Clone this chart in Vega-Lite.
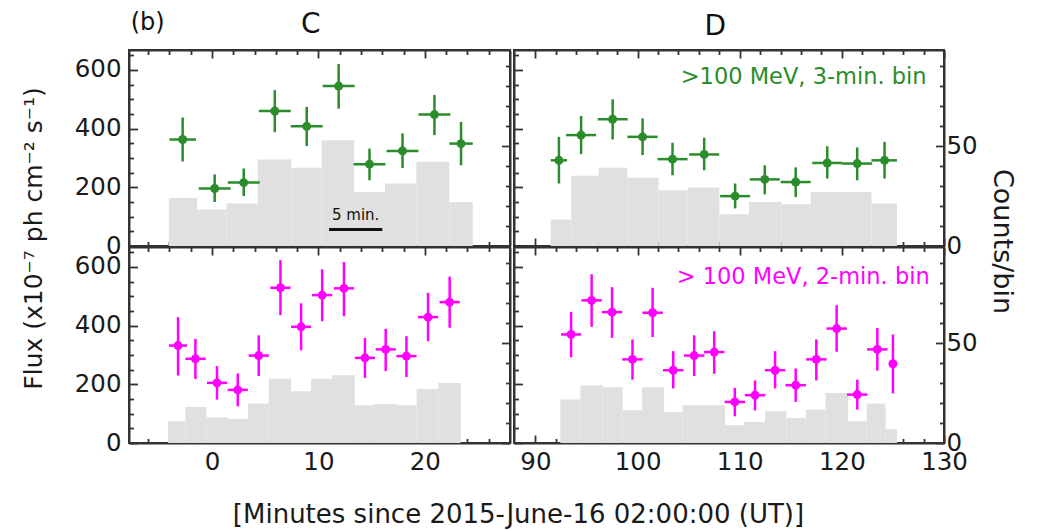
{
  "$schema": "https://vega.github.io/schema/vega-lite/v6.json",
  "background": "white",
  "padding": {"left": 19, "top": 9, "right": 5, "bottom": 3},
  "datasets": {
    "hist": [
      {"panel": "C3", "t0": -4.06, "t1": -1.4, "c": 24.0},
      {"panel": "C3", "t0": -1.4, "t1": 1.35, "c": 18.2},
      {"panel": "C3", "t0": 1.35, "t1": 4.3, "c": 21.2},
      {"panel": "C3", "t0": 4.3, "t1": 7.47, "c": 43.3},
      {"panel": "C3", "t0": 7.47, "t1": 10.3, "c": 39.1},
      {"panel": "C3", "t0": 10.3, "t1": 13.36, "c": 52.9},
      {"panel": "C3", "t0": 13.36, "t1": 16.25, "c": 27.0},
      {"panel": "C3", "t0": 16.25, "t1": 19.2, "c": 31.2},
      {"panel": "C3", "t0": 19.2, "t1": 22.3, "c": 42.1},
      {"panel": "C3", "t0": 22.3, "t1": 24.5, "c": 22.0},
      {"panel": "D3", "t0": 91.5, "t1": 93.5, "c": 13.2},
      {"panel": "D3", "t0": 93.5, "t1": 96.2, "c": 35.1},
      {"panel": "D3", "t0": 96.2, "t1": 99.0, "c": 39.1},
      {"panel": "D3", "t0": 99.0, "t1": 102.05, "c": 34.1},
      {"panel": "D3", "t0": 102.05, "t1": 104.9, "c": 27.9},
      {"panel": "D3", "t0": 104.9, "t1": 108.0, "c": 29.2},
      {"panel": "D3", "t0": 108.0, "t1": 110.9, "c": 15.9},
      {"panel": "D3", "t0": 110.9, "t1": 114.1, "c": 22.0},
      {"panel": "D3", "t0": 114.1, "t1": 116.95, "c": 20.9},
      {"panel": "D3", "t0": 116.95, "t1": 120.0, "c": 27.0},
      {"panel": "D3", "t0": 120.0, "t1": 122.9, "c": 27.0},
      {"panel": "D3", "t0": 122.9, "t1": 125.4, "c": 21.2},
      {"panel": "C2", "t0": -4.13, "t1": -2.5, "c": 10.9},
      {"panel": "C2", "t0": -2.5, "t1": -0.53, "c": 18.0},
      {"panel": "C2", "t0": -0.53, "t1": 1.5, "c": 12.9},
      {"panel": "C2", "t0": 1.5, "t1": 3.38, "c": 12.0},
      {"panel": "C2", "t0": 3.38, "t1": 5.33, "c": 19.7},
      {"panel": "C2", "t0": 5.33, "t1": 7.43, "c": 32.1},
      {"panel": "C2", "t0": 7.43, "t1": 9.31, "c": 25.9},
      {"panel": "C2", "t0": 9.31, "t1": 11.29, "c": 32.1},
      {"panel": "C2", "t0": 11.29, "t1": 13.42, "c": 33.9},
      {"panel": "C2", "t0": 13.42, "t1": 15.2, "c": 18.9},
      {"panel": "C2", "t0": 15.2, "t1": 17.4, "c": 19.5},
      {"panel": "C2", "t0": 17.4, "t1": 19.23, "c": 18.9},
      {"panel": "C2", "t0": 19.23, "t1": 21.26, "c": 27.0},
      {"panel": "C2", "t0": 21.26, "t1": 23.37, "c": 30.0},
      {"panel": "D2", "t0": 92.44, "t1": 94.4, "c": 21.7},
      {"panel": "D2", "t0": 94.4, "t1": 96.58, "c": 28.9},
      {"panel": "D2", "t0": 96.58, "t1": 98.53, "c": 27.9},
      {"panel": "D2", "t0": 98.53, "t1": 100.43, "c": 16.4},
      {"panel": "D2", "t0": 100.43, "t1": 102.6, "c": 27.9},
      {"panel": "D2", "t0": 102.6, "t1": 104.4, "c": 15.5},
      {"panel": "D2", "t0": 104.4, "t1": 106.5, "c": 18.9},
      {"panel": "D2", "t0": 106.5, "t1": 108.57, "c": 18.9},
      {"panel": "D2", "t0": 108.57, "t1": 110.43, "c": 8.9},
      {"panel": "D2", "t0": 110.43, "t1": 112.48, "c": 10.5},
      {"panel": "D2", "t0": 112.48, "t1": 114.57, "c": 15.9},
      {"panel": "D2", "t0": 114.57, "t1": 116.46, "c": 12.5},
      {"panel": "D2", "t0": 116.46, "t1": 118.4, "c": 16.7},
      {"panel": "D2", "t0": 118.4, "t1": 120.6, "c": 25.0},
      {"panel": "D2", "t0": 120.6, "t1": 122.42, "c": 10.9},
      {"panel": "D2", "t0": 122.42, "t1": 124.28, "c": 19.7},
      {"panel": "D2", "t0": 124.28, "t1": 125.41, "c": 7.0}
    ],
    "pts": [
      {"panel": "C3", "t": -2.76, "t0": -4.0, "t1": -1.5, "flux": 363, "lo": 288, "hi": 438},
      {"panel": "C3", "t": 0.25, "t0": -1.25, "t1": 1.75, "flux": 196, "lo": 150, "hi": 244},
      {"panel": "C3", "t": 2.98, "t0": 1.48, "t1": 4.48, "flux": 216, "lo": 170, "hi": 264},
      {"panel": "C3", "t": 5.9, "t0": 4.4, "t1": 7.4, "flux": 460, "lo": 388, "hi": 531},
      {"panel": "C3", "t": 8.9, "t0": 7.4, "t1": 10.4, "flux": 408, "lo": 341, "hi": 474},
      {"panel": "C3", "t": 11.9, "t0": 10.4, "t1": 13.4, "flux": 545, "lo": 468, "hi": 620},
      {"panel": "C3", "t": 14.8, "t0": 13.3, "t1": 16.3, "flux": 279, "lo": 224, "hi": 332},
      {"panel": "C3", "t": 17.9, "t0": 16.4, "t1": 19.4, "flux": 324, "lo": 266, "hi": 384},
      {"panel": "C3", "t": 20.9, "t0": 19.4, "t1": 22.4, "flux": 448, "lo": 378, "hi": 515},
      {"panel": "C3", "t": 23.4, "t0": 22.3, "t1": 24.5, "flux": 349, "lo": 275, "hi": 423},
      {"panel": "D3", "t": 92.3, "t0": 91.5, "t1": 93.1, "flux": 292, "lo": 213, "hi": 372},
      {"panel": "D3", "t": 94.47, "t0": 93.0, "t1": 95.94, "flux": 378, "lo": 313, "hi": 443},
      {"panel": "D3", "t": 97.56, "t0": 96.1, "t1": 99.03, "flux": 432, "lo": 363, "hi": 500},
      {"panel": "D3", "t": 100.49, "t0": 99.0, "t1": 101.96, "flux": 372, "lo": 310, "hi": 435},
      {"panel": "D3", "t": 103.42, "t0": 101.95, "t1": 104.89, "flux": 296, "lo": 241, "hi": 352},
      {"panel": "D3", "t": 106.52, "t0": 105.05, "t1": 107.99, "flux": 312, "lo": 258, "hi": 369},
      {"panel": "D3", "t": 109.55, "t0": 108.08, "t1": 111.02, "flux": 170, "lo": 128, "hi": 213},
      {"panel": "D3", "t": 112.45, "t0": 110.98, "t1": 113.92, "flux": 227, "lo": 176, "hi": 275},
      {"panel": "D3", "t": 115.48, "t0": 114.01, "t1": 116.95, "flux": 218, "lo": 167, "hi": 268},
      {"panel": "D3", "t": 118.57, "t0": 117.1, "t1": 120.04, "flux": 283, "lo": 230, "hi": 340},
      {"panel": "D3", "t": 121.5, "t0": 120.03, "t1": 122.97, "flux": 281, "lo": 224, "hi": 336},
      {"panel": "D3", "t": 124.18, "t0": 122.9, "t1": 125.4, "flux": 292, "lo": 230, "hi": 355},
      {"panel": "C2", "t": -3.19, "t0": -4.05, "t1": -2.35, "flux": 332, "lo": 230, "hi": 429},
      {"panel": "C2", "t": -1.56, "t0": -2.5, "t1": -0.6, "flux": 287, "lo": 218, "hi": 355},
      {"panel": "C2", "t": 0.47, "t0": -0.48, "t1": 1.42, "flux": 205, "lo": 148, "hi": 262},
      {"panel": "C2", "t": 2.42, "t0": 1.47, "t1": 3.37, "flux": 181, "lo": 125, "hi": 237},
      {"panel": "C2", "t": 4.39, "t0": 3.44, "t1": 5.34, "flux": 298, "lo": 228, "hi": 367},
      {"panel": "C2", "t": 6.43, "t0": 5.48, "t1": 7.38, "flux": 529, "lo": 436, "hi": 623},
      {"panel": "C2", "t": 8.37, "t0": 7.42, "t1": 9.32, "flux": 396, "lo": 316, "hi": 476},
      {"panel": "C2", "t": 10.35, "t0": 9.4, "t1": 11.3, "flux": 504, "lo": 415, "hi": 592},
      {"panel": "C2", "t": 12.4, "t0": 11.45, "t1": 13.35, "flux": 527, "lo": 432, "hi": 617},
      {"panel": "C2", "t": 14.37, "t0": 13.42, "t1": 15.32, "flux": 290, "lo": 222, "hi": 358},
      {"panel": "C2", "t": 16.32, "t0": 15.37, "t1": 17.27, "flux": 319, "lo": 245, "hi": 389},
      {"panel": "C2", "t": 18.27, "t0": 17.32, "t1": 19.22, "flux": 296, "lo": 225, "hi": 364},
      {"panel": "C2", "t": 20.3, "t0": 19.35, "t1": 21.25, "flux": 429, "lo": 347, "hi": 512},
      {"panel": "C2", "t": 22.33, "t0": 21.38, "t1": 23.28, "flux": 480, "lo": 393, "hi": 567},
      {"panel": "D2", "t": 93.49, "t0": 92.5, "t1": 94.48, "flux": 370, "lo": 292, "hi": 447},
      {"panel": "D2", "t": 95.5, "t0": 94.5, "t1": 96.5, "flux": 486, "lo": 396, "hi": 575},
      {"panel": "D2", "t": 97.5, "t0": 96.5, "t1": 98.5, "flux": 446, "lo": 358, "hi": 531},
      {"panel": "D2", "t": 99.5, "t0": 98.5, "t1": 100.5, "flux": 285, "lo": 216, "hi": 353},
      {"panel": "D2", "t": 101.47, "t0": 100.47, "t1": 102.47, "flux": 444, "lo": 361, "hi": 529},
      {"panel": "D2", "t": 103.49, "t0": 102.49, "t1": 104.49, "flux": 248, "lo": 186, "hi": 313},
      {"panel": "D2", "t": 105.54, "t0": 104.54, "t1": 106.54, "flux": 298, "lo": 228, "hi": 367},
      {"panel": "D2", "t": 107.5, "t0": 106.5, "t1": 108.5, "flux": 310, "lo": 236, "hi": 381},
      {"panel": "D2", "t": 109.52, "t0": 108.52, "t1": 110.52, "flux": 140, "lo": 91, "hi": 188},
      {"panel": "D2", "t": 111.5, "t0": 110.5, "t1": 112.5, "flux": 163, "lo": 111, "hi": 213},
      {"panel": "D2", "t": 113.46, "t0": 112.46, "t1": 114.46, "flux": 248, "lo": 186, "hi": 313},
      {"panel": "D2", "t": 115.48, "t0": 114.48, "t1": 116.48, "flux": 197, "lo": 140, "hi": 254},
      {"panel": "D2", "t": 117.5, "t0": 116.5, "t1": 118.5, "flux": 285, "lo": 213, "hi": 353},
      {"panel": "D2", "t": 119.49, "t0": 118.49, "t1": 120.49, "flux": 390, "lo": 311, "hi": 470},
      {"panel": "D2", "t": 121.51, "t0": 120.51, "t1": 122.51, "flux": 165, "lo": 114, "hi": 216},
      {"panel": "D2", "t": 123.47, "t0": 122.47, "t1": 124.47, "flux": 319, "lo": 247, "hi": 392},
      {"panel": "D2", "t": 125.0, "t0": 124.7, "t1": 125.3, "flux": 270, "lo": 169, "hi": 370}
    ],
    "notes": [
      {"panel": "C3", "kind": "bar", "t0": 11, "t1": 16, "flux": 56},
      {"panel": "C3", "kind": "bartext", "t": 13.5, "flux": 105, "text": "5 min."},
      {"panel": "C3", "kind": "tag", "t": -7.64, "flux": 736, "text": "(b)"},
      {"panel": "C3", "kind": "head", "t": 9.28, "flux": 726, "text": "C"},
      {"panel": "D3", "kind": "head", "t": 107.6, "flux": 719, "text": "D"},
      {"panel": "D3", "kind": "band", "t": 128.3, "flux": 552, "text": ">100 MeV, 3-min. bin"},
      {"panel": "D2", "kind": "band", "t": 128.6, "flux": 542, "text": "> 100 MeV, 2-min. bin"}
    ]
  },
  "concat": [
    {
      "width": 381, "height": 196,
      "layer": [
        {
          "data": {"name": "hist"},
          "transform": [{"filter": "datum.panel === 'C3'"}],
          "mark": {"type": "rect", "color": "#e0e0e0"},
          "encoding": {
            "x": {"field": "t0", "type": "quantitative", "scale": {"domain": [-7.8, 28], "nice": false, "zero": false},
              "axis": {"orient": "bottom", "values": [-6,-4,-2,0,2,4,6,8,10,12,14,16,18,20,22,24,26], "labels": false, "title": null,
                "tickSize": {"condition": {"test": "datum.value % 10 === 0", "value": -8}, "value": -4.5}}},
            "x2": {"field": "t1"},
            "y": {"field": "c", "type": "quantitative", "scale": {"domain": [0, 98], "nice": false, "zero": false},
              "axis": {"orient": "right", "values": [0,10,20,30,40,50,60,70,80,90], "labels": false, "title": null,
                "tickSize": {"condition": {"test": "datum.value % 50 === 0", "value": -8.5}, "value": -4.5}}},
            "y2": {"datum": 0}
          }
        },
        {
          "data": {"name": "pts"},
          "transform": [{"filter": "datum.panel === 'C3'"}],
          "mark": {"type": "rule", "color": "#2a8c2a", "strokeWidth": 2.5},
          "encoding": {
            "x": {"field": "t0", "type": "quantitative", "scale": {"domain": [-7.8, 28], "nice": false, "zero": false},
              "axis": {"orient": "top", "values": [-6,-4,-2,0,2,4,6,8,10,12,14,16,18,20,22,24,26], "labels": false, "title": null,
                "tickSize": {"condition": {"test": "datum.value % 10 === 0", "value": -8}, "value": -4.5}}},
            "x2": {"field": "t1"},
            "y": {"field": "flux", "type": "quantitative", "scale": {"domain": [0, 668], "nice": false, "zero": false},
              "axis": {"orient": "left", "values": [0,50,100,150,200,250,300,350,400,450,500,550,600,650],
                "labelExpr": "datum.value % 200 === 0 ? datum.label : ''", "labelPadding": 16.5,
                "tickSize": {"condition": {"test": "datum.value % 200 === 0", "value": -8.5}, "value": -4.5},
                "title": "Flux (x10⁻⁷ ph cm⁻² s⁻¹)", "titleFontSize": 25, "titleX": -88, "titleY": 188,
                "titleAngle": -90, "titleBaseline": "alphabetic", "titleAlign": "center"}}
          }
        },
        {
          "data": {"name": "pts"},
          "transform": [{"filter": "datum.panel === 'C3'"}],
          "mark": {"type": "rule", "color": "#2a8c2a", "strokeWidth": 2.5},
          "encoding": {
            "x": {"field": "t", "type": "quantitative", "scale": {"domain": [-7.8, 28], "nice": false, "zero": false}, "axis": null},
            "y": {"field": "lo", "type": "quantitative", "scale": {"domain": [0, 668], "nice": false, "zero": false}, "axis": null},
            "y2": {"field": "hi"}
          }
        },
        {
          "data": {"name": "pts"},
          "transform": [{"filter": "datum.panel === 'C3'"}],
          "mark": {"type": "point", "filled": true, "size": 80, "opacity": 1, "color": "#2a8c2a"},
          "encoding": {
            "x": {"field": "t", "type": "quantitative", "scale": {"domain": [-7.8, 28], "nice": false, "zero": false}, "axis": null},
            "y": {"field": "flux", "type": "quantitative", "scale": {"domain": [0, 668], "nice": false, "zero": false}, "axis": null}
          }
        },
        {
          "data": {"name": "notes"},
          "transform": [{"filter": "datum.panel === 'C3' && datum.kind === 'bar'"}],
          "mark": {"type": "rule", "color": "#111", "strokeWidth": 3},
          "encoding": {
            "x": {"field": "t0", "type": "quantitative", "scale": {"domain": [-7.8, 28], "nice": false, "zero": false}, "axis": null},
            "x2": {"field": "t1"},
            "y": {"field": "flux", "type": "quantitative", "scale": {"domain": [0, 668], "nice": false, "zero": false}, "axis": null}
          }
        },
        {
          "data": {"name": "notes"},
          "transform": [{"filter": "datum.panel === 'C3' && datum.kind === 'bartext'"}],
          "mark": {"type": "text", "font": "DejaVu Sans", "fontSize": 15, "color": "#111", "align": "center", "baseline": "middle"},
          "encoding": {
            "x": {"field": "t", "type": "quantitative", "scale": {"domain": [-7.8, 28], "nice": false, "zero": false}, "axis": null},
            "y": {"field": "flux", "type": "quantitative", "scale": {"domain": [0, 668], "nice": false, "zero": false}, "axis": null},
            "text": {"field": "text"}
          }
        },
        {
          "data": {"name": "notes"},
          "transform": [{"filter": "datum.panel === 'C3' && datum.kind === 'tag'"}],
          "mark": {"type": "text", "font": "DejaVu Sans", "fontSize": 24, "color": "#111", "align": "left", "baseline": "alphabetic"},
          "encoding": {
            "x": {"field": "t", "type": "quantitative", "scale": {"domain": [-7.8, 28], "nice": false, "zero": false}, "axis": null},
            "y": {"field": "flux", "type": "quantitative", "scale": {"domain": [0, 668], "nice": false, "zero": false}, "axis": null},
            "text": {"field": "text"}
          }
        },
        {
          "data": {"name": "notes"},
          "transform": [{"filter": "datum.panel === 'C3' && datum.kind === 'head'"}],
          "mark": {"type": "text", "font": "DejaVu Sans", "fontSize": 28, "color": "#111", "align": "center", "baseline": "alphabetic"},
          "encoding": {
            "x": {"field": "t", "type": "quantitative", "scale": {"domain": [-7.8, 28], "nice": false, "zero": false}, "axis": null},
            "y": {"field": "flux", "type": "quantitative", "scale": {"domain": [0, 668], "nice": false, "zero": false}, "axis": null},
            "text": {"field": "text"}
          }
        }
      ],
      "resolve": {"scale": {"y": "independent"}, "axis": {"x": "independent"}}
    },
    {
      "width": 430, "height": 196,
      "layer": [
        {
          "data": {"name": "hist"},
          "transform": [{"filter": "datum.panel === 'D3'"}],
          "mark": {"type": "rect", "color": "#e0e0e0"},
          "encoding": {
            "x": {"field": "t0", "type": "quantitative", "scale": {"domain": [87.9, 130], "nice": false, "zero": false},
              "axis": {"orient": "bottom", "values": [90,92,94,96,98,100,102,104,106,108,110,112,114,116,118,120,122,124,126,128,130], "labels": false, "title": null,
                "tickSize": {"condition": {"test": "datum.value % 10 === 0", "value": -8}, "value": -4.5}}},
            "x2": {"field": "t1"},
            "y": {"field": "c", "type": "quantitative", "scale": {"domain": [0, 98], "nice": false, "zero": false},
              "axis": {"orient": "right", "values": [0,10,20,30,40,50,60,70,80,90],
                "labelExpr": "datum.value % 50 === 0 ? datum.label : ''", "labelPadding": 10.5,
                "tickSize": {"condition": {"test": "datum.value % 50 === 0", "value": -8.5}, "value": -4.5},
                "title": "Counts/bin", "titleFontSize": 27, "titleX": 49, "titleY": 191, "titleAngle": 90,
                "titleBaseline": "alphabetic", "titleAlign": "center"}},
            "y2": {"datum": 0}
          }
        },
        {
          "data": {"name": "pts"},
          "transform": [{"filter": "datum.panel === 'D3'"}],
          "mark": {"type": "rule", "color": "#2a8c2a", "strokeWidth": 2.5},
          "encoding": {
            "x": {"field": "t0", "type": "quantitative", "scale": {"domain": [87.9, 130], "nice": false, "zero": false},
              "axis": {"orient": "top", "values": [90,92,94,96,98,100,102,104,106,108,110,112,114,116,118,120,122,124,126,128,130], "labels": false, "title": null,
                "tickSize": {"condition": {"test": "datum.value % 10 === 0", "value": -8}, "value": -4.5}}},
            "x2": {"field": "t1"},
            "y": {"field": "flux", "type": "quantitative", "scale": {"domain": [0, 668], "nice": false, "zero": false},
              "axis": {"orient": "left", "values": [0,50,100,150,200,250,300,350,400,450,500,550,600,650], "labels": false, "title": null,
                "tickSize": {"condition": {"test": "datum.value % 200 === 0", "value": -8.5}, "value": -4.5}}}
          }
        },
        {
          "data": {"name": "pts"},
          "transform": [{"filter": "datum.panel === 'D3'"}],
          "mark": {"type": "rule", "color": "#2a8c2a", "strokeWidth": 2.5},
          "encoding": {
            "x": {"field": "t", "type": "quantitative", "scale": {"domain": [87.9, 130], "nice": false, "zero": false}, "axis": null},
            "y": {"field": "lo", "type": "quantitative", "scale": {"domain": [0, 668], "nice": false, "zero": false}, "axis": null},
            "y2": {"field": "hi"}
          }
        },
        {
          "data": {"name": "pts"},
          "transform": [{"filter": "datum.panel === 'D3'"}],
          "mark": {"type": "point", "filled": true, "size": 80, "opacity": 1, "color": "#2a8c2a"},
          "encoding": {
            "x": {"field": "t", "type": "quantitative", "scale": {"domain": [87.9, 130], "nice": false, "zero": false}, "axis": null},
            "y": {"field": "flux", "type": "quantitative", "scale": {"domain": [0, 668], "nice": false, "zero": false}, "axis": null}
          }
        },
        {
          "data": {"name": "notes"},
          "transform": [{"filter": "datum.panel === 'D3' && datum.kind === 'band'"}],
          "mark": {"type": "text", "font": "DejaVu Sans", "fontSize": 22.5, "color": "#2a8c2a", "align": "right", "baseline": "alphabetic"},
          "encoding": {
            "x": {"field": "t", "type": "quantitative", "scale": {"domain": [87.9, 130], "nice": false, "zero": false}, "axis": null},
            "y": {"field": "flux", "type": "quantitative", "scale": {"domain": [0, 668], "nice": false, "zero": false}, "axis": null},
            "text": {"field": "text"}
          }
        },
        {
          "data": {"name": "notes"},
          "transform": [{"filter": "datum.panel === 'D3' && datum.kind === 'head'"}],
          "mark": {"type": "text", "font": "DejaVu Sans", "fontSize": 28, "color": "#111", "align": "center", "baseline": "alphabetic"},
          "encoding": {
            "x": {"field": "t", "type": "quantitative", "scale": {"domain": [87.9, 130], "nice": false, "zero": false}, "axis": null},
            "y": {"field": "flux", "type": "quantitative", "scale": {"domain": [0, 668], "nice": false, "zero": false}, "axis": null},
            "text": {"field": "text"}
          }
        }
      ],
      "resolve": {"scale": {"y": "independent"}, "axis": {"x": "independent"}}
    },
    {
      "width": 381, "height": 196,
      "layer": [
        {
          "data": {"name": "hist"},
          "transform": [{"filter": "datum.panel === 'C2'"}],
          "mark": {"type": "rect", "color": "#e0e0e0"},
          "encoding": {
            "x": {"field": "t0", "type": "quantitative", "scale": {"domain": [-7.8, 28], "nice": false, "zero": false},
              "axis": {"orient": "bottom", "values": [-6,-4,-2,0,2,4,6,8,10,12,14,16,18,20,22,24,26],
                "labelExpr": "datum.value % 10 === 0 ? datum.label : ''", "labelPadding": 15,
                "tickSize": {"condition": {"test": "datum.value % 10 === 0", "value": -8}, "value": -4.5},
                "title": "[Minutes since 2015-June-16 02:00:00 (UT)]", "titleFontSize": 26, "titleX": 389, "titleY": 79,
                "titleBaseline": "alphabetic", "titleAlign": "center", "titleAngle": 0}},
            "x2": {"field": "t1"},
            "y": {"field": "c", "type": "quantitative", "scale": {"domain": [0, 98], "nice": false, "zero": false},
              "axis": {"orient": "right", "values": [0,10,20,30,40,50,60,70,80,90], "labels": false, "title": null,
                "tickSize": {"condition": {"test": "datum.value % 50 === 0", "value": -8.5}, "value": -4.5}}},
            "y2": {"datum": 0}
          }
        },
        {
          "data": {"name": "pts"},
          "transform": [{"filter": "datum.panel === 'C2'"}],
          "mark": {"type": "rule", "color": "#ff00ff", "strokeWidth": 2.5},
          "encoding": {
            "x": {"field": "t0", "type": "quantitative", "scale": {"domain": [-7.8, 28], "nice": false, "zero": false},
              "axis": {"orient": "top", "values": [-6,-4,-2,0,2,4,6,8,10,12,14,16,18,20,22,24,26], "labels": false, "title": null,
                "tickSize": {"condition": {"test": "datum.value % 10 === 0", "value": -8}, "value": -4.5}}},
            "x2": {"field": "t1"},
            "y": {"field": "flux", "type": "quantitative", "scale": {"domain": [0, 668], "nice": false, "zero": false},
              "axis": {"orient": "left", "values": [0,50,100,150,200,250,300,350,400,450,500,550,600,650],
                "labelExpr": "datum.value % 200 === 0 ? datum.label : ''", "labelPadding": 16.5, "title": null,
                "tickSize": {"condition": {"test": "datum.value % 200 === 0", "value": -8.5}, "value": -4.5}}}
          }
        },
        {
          "data": {"name": "pts"},
          "transform": [{"filter": "datum.panel === 'C2'"}],
          "mark": {"type": "rule", "color": "#ff00ff", "strokeWidth": 2.5},
          "encoding": {
            "x": {"field": "t", "type": "quantitative", "scale": {"domain": [-7.8, 28], "nice": false, "zero": false}, "axis": null},
            "y": {"field": "lo", "type": "quantitative", "scale": {"domain": [0, 668], "nice": false, "zero": false}, "axis": null},
            "y2": {"field": "hi"}
          }
        },
        {
          "data": {"name": "pts"},
          "transform": [{"filter": "datum.panel === 'C2'"}],
          "mark": {"type": "point", "filled": true, "size": 80, "opacity": 1, "color": "#ff00ff"},
          "encoding": {
            "x": {"field": "t", "type": "quantitative", "scale": {"domain": [-7.8, 28], "nice": false, "zero": false}, "axis": null},
            "y": {"field": "flux", "type": "quantitative", "scale": {"domain": [0, 668], "nice": false, "zero": false}, "axis": null}
          }
        }
      ],
      "resolve": {"scale": {"y": "independent"}, "axis": {"x": "independent"}}
    },
    {
      "width": 430, "height": 196,
      "layer": [
        {
          "data": {"name": "hist"},
          "transform": [{"filter": "datum.panel === 'D2'"}],
          "mark": {"type": "rect", "color": "#e0e0e0"},
          "encoding": {
            "x": {"field": "t0", "type": "quantitative", "scale": {"domain": [87.9, 130], "nice": false, "zero": false},
              "axis": {"orient": "bottom", "values": [90,92,94,96,98,100,102,104,106,108,110,112,114,116,118,120,122,124,126,128,130],
                "labelExpr": "datum.value % 10 === 0 ? datum.label : ''", "labelPadding": 15, "title": null,
                "tickSize": {"condition": {"test": "datum.value % 10 === 0", "value": -8}, "value": -4.5}}},
            "x2": {"field": "t1"},
            "y": {"field": "c", "type": "quantitative", "scale": {"domain": [0, 98], "nice": false, "zero": false},
              "axis": {"orient": "right", "values": [0,10,20,30,40,50,60,70,80,90],
                "labelExpr": "datum.value % 50 === 0 ? datum.label : ''", "labelPadding": 10.5, "title": null,
                "tickSize": {"condition": {"test": "datum.value % 50 === 0", "value": -8.5}, "value": -4.5}}},
            "y2": {"datum": 0}
          }
        },
        {
          "data": {"name": "pts"},
          "transform": [{"filter": "datum.panel === 'D2'"}],
          "mark": {"type": "rule", "color": "#ff00ff", "strokeWidth": 2.5},
          "encoding": {
            "x": {"field": "t0", "type": "quantitative", "scale": {"domain": [87.9, 130], "nice": false, "zero": false},
              "axis": {"orient": "top", "values": [90,92,94,96,98,100,102,104,106,108,110,112,114,116,118,120,122,124,126,128,130], "labels": false, "title": null,
                "tickSize": {"condition": {"test": "datum.value % 10 === 0", "value": -8}, "value": -4.5}}},
            "x2": {"field": "t1"},
            "y": {"field": "flux", "type": "quantitative", "scale": {"domain": [0, 668], "nice": false, "zero": false},
              "axis": {"orient": "left", "values": [0,50,100,150,200,250,300,350,400,450,500,550,600,650], "labels": false, "title": null,
                "tickSize": {"condition": {"test": "datum.value % 200 === 0", "value": -8.5}, "value": -4.5}}}
          }
        },
        {
          "data": {"name": "pts"},
          "transform": [{"filter": "datum.panel === 'D2'"}],
          "mark": {"type": "rule", "color": "#ff00ff", "strokeWidth": 2.5},
          "encoding": {
            "x": {"field": "t", "type": "quantitative", "scale": {"domain": [87.9, 130], "nice": false, "zero": false}, "axis": null},
            "y": {"field": "lo", "type": "quantitative", "scale": {"domain": [0, 668], "nice": false, "zero": false}, "axis": null},
            "y2": {"field": "hi"}
          }
        },
        {
          "data": {"name": "pts"},
          "transform": [{"filter": "datum.panel === 'D2'"}],
          "mark": {"type": "point", "filled": true, "size": 80, "opacity": 1, "color": "#ff00ff"},
          "encoding": {
            "x": {"field": "t", "type": "quantitative", "scale": {"domain": [87.9, 130], "nice": false, "zero": false}, "axis": null},
            "y": {"field": "flux", "type": "quantitative", "scale": {"domain": [0, 668], "nice": false, "zero": false}, "axis": null}
          }
        },
        {
          "data": {"name": "notes"},
          "transform": [{"filter": "datum.panel === 'D2' && datum.kind === 'band'"}],
          "mark": {"type": "text", "font": "DejaVu Sans", "fontSize": 22.5, "color": "#ff00ff", "align": "right", "baseline": "alphabetic"},
          "encoding": {
            "x": {"field": "t", "type": "quantitative", "scale": {"domain": [87.9, 130], "nice": false, "zero": false}, "axis": null},
            "y": {"field": "flux", "type": "quantitative", "scale": {"domain": [0, 668], "nice": false, "zero": false}, "axis": null},
            "text": {"field": "text"}
          }
        }
      ],
      "resolve": {"scale": {"y": "independent"}, "axis": {"x": "independent"}}
    }
  ],
  "columns": 2,
  "spacing": {"row": 1, "column": 4},
  "bounds": "flush",
  "align": "each",
  "config": {
    "view": {"stroke": "#333", "strokeWidth": 2},
    "axis": {
      "grid": false, "domain": true, "domainColor": "#333", "domainWidth": 2,
      "tickColor": "#333", "tickWidth": 1.8,
      "labelFont": "DejaVu Sans", "labelFontSize": 24.5, "labelColor": "#1a1a1a",
      "titleFont": "DejaVu Sans", "titleFontWeight": "normal", "titleColor": "#1a1a1a",
      "labelOverlap": false, "labelFlush": false, "zindex": 1
    }
  }
}
